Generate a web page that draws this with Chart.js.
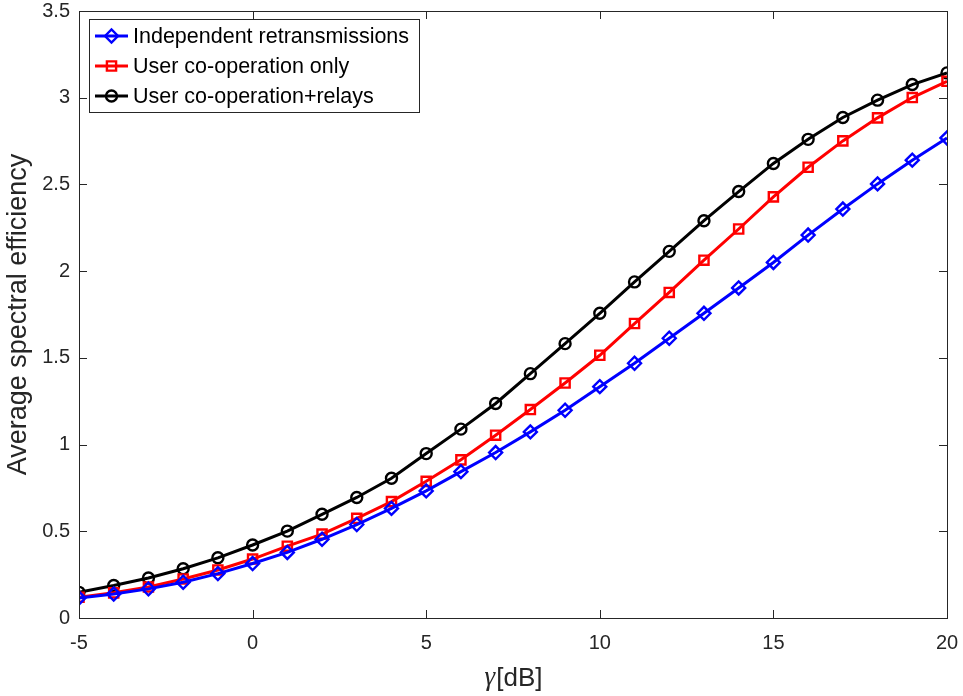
<!DOCTYPE html>
<html>
<head>
<meta charset="utf-8">
<title>Average spectral efficiency vs. SNR</title>
<script src="https://cdn.jsdelivr.net/npm/chart.js@4.4.1/dist/chart.umd.min.js"></script>
<style>
  html, body { margin: 0; padding: 0; background: #ffffff; }
  #wrap { width: 963px; height: 696px; }
</style>
</head>
<body>
<div id="wrap"><canvas id="chart" width="963" height="696"></canvas></div>
<script>
// SNR grid (dB)
const gammaDb = [-5, -4, -3, -2, -1, 0, 1, 2, 3, 4, 5, 6, 7, 8, 9, 10, 11, 12, 13, 14, 15, 16, 17, 18, 19, 20];

// Average spectral efficiency per scheme
const independentRetx = [0.115, 0.138, 0.168, 0.206, 0.256, 0.314, 0.378, 0.454, 0.539, 0.632, 0.733, 0.844, 0.954,
  1.073, 1.198, 1.334, 1.469, 1.613, 1.757, 1.903, 2.050, 2.208, 2.358, 2.503, 2.640, 2.768];
const coopOnly = [0.120, 0.145, 0.179, 0.225, 0.277, 0.340, 0.414, 0.484, 0.575, 0.671, 0.788, 0.912, 1.054,
  1.202, 1.355, 1.515, 1.698, 1.877, 2.063, 2.243, 2.428, 2.599, 2.751, 2.884, 3.001, 3.095];
const coopRelays = [0.148, 0.187, 0.231, 0.284, 0.347, 0.421, 0.501, 0.598, 0.695, 0.806, 0.948, 1.089, 1.237,
  1.409, 1.582, 1.757, 1.938, 2.114, 2.291, 2.459, 2.621, 2.760, 2.886, 2.986, 3.076, 3.143];

const seriesNames = ['Independent retransmissions', 'User co-operation only', 'User co-operation+relays'];

// Axis ticks
const xTicks = [-5, 0, 5, 10, 15, 20];
const yTicks = [0, 0.5, 1, 1.5, 2, 2.5, 3, 3.5];
const xTickLabels = ['-5', '0', '5', '10', '15', '20'];
const yTickLabels = ['0', '0.5', '1', '1.5', '2', '2.5', '3', '3.5'];

const AXIS_COLOR = '#262626';
const SANS = "'Liberation Sans', Arial, Helvetica, sans-serif";
const SERIF_ITALIC = "italic 27px 'Liberation Serif', 'DejaVu Serif', serif";

const toPoints = ys => gammaDb.map((x, i) => ({ x: x, y: ys[i] }));

// Box around the plot area with inward tick marks on all four sides
const boxAndTicks = {
  id: 'boxAndTicks',
  afterDatasetsDraw(chart) {
    const { ctx, chartArea: a, scales: { x, y } } = chart;
    const len = 8;
    ctx.save();
    ctx.strokeStyle = AXIS_COLOR;
    ctx.lineWidth = 1;
    ctx.beginPath();
    xTicks.forEach(v => {
      const px = Math.round(x.getPixelForValue(v)) + 0.5;
      ctx.moveTo(px, a.bottom); ctx.lineTo(px, a.bottom - len);
      ctx.moveTo(px, a.top); ctx.lineTo(px, a.top + len);
    });
    yTicks.forEach(v => {
      const py = Math.round(y.getPixelForValue(v)) + 0.5;
      ctx.moveTo(a.left, py); ctx.lineTo(a.left + len, py);
      ctx.moveTo(a.right, py); ctx.lineTo(a.right - len, py);
    });
    ctx.stroke();
    ctx.strokeRect(Math.round(a.left) + 0.5, Math.round(a.top) + 0.5,
      Math.round(a.right - a.left), Math.round(a.bottom - a.top));
    ctx.restore();
  }
};

// Axis titles and the boxed legend in the upper-left corner
const titlesAndLegend = {
  id: 'titlesAndLegend',
  afterDraw(chart) {
    const { ctx, chartArea: a } = chart;
    ctx.save();
    ctx.fillStyle = AXIS_COLOR;

    // x-axis title: italic gamma followed by the unit
    const cx = (a.left + a.right) / 2;
    const ty = 679;
    ctx.textBaseline = 'middle';
    ctx.font = SERIF_ITALIC;
    const gW = ctx.measureText('γ').width;
    ctx.font = '26px ' + SANS;
    const uW = ctx.measureText('[dB]').width;
    const sx = cx - (gW + uW) / 2;
    ctx.textAlign = 'left';
    ctx.font = SERIF_ITALIC;
    ctx.fillText('γ', sx, ty - 1);
    ctx.font = '26px ' + SANS;
    ctx.fillText('[dB]', sx + gW + 1, ty);

    // y-axis title
    ctx.translate(19, (a.top + a.bottom) / 2);
    ctx.rotate(-Math.PI / 2);
    ctx.textAlign = 'center';
    ctx.font = '27px ' + SANS;
    ctx.fillText('Average spectral efficiency', 0, 0);
    ctx.restore();

    // legend
    const lx = 89, ly = 19, lw = 330, lh = 93;
    ctx.save();
    ctx.fillStyle = '#ffffff';
    ctx.fillRect(lx, ly, lw, lh);
    ctx.strokeStyle = AXIS_COLOR;
    ctx.lineWidth = 1;
    ctx.strokeRect(lx + 0.5, ly + 0.5, lw, lh);
    const rowY = [36, 66, 96];
    chart.data.datasets.forEach((ds, i) => {
      const yy = rowY[i];
      ctx.strokeStyle = ds.borderColor;
      ctx.lineWidth = ds.borderWidth;
      ctx.beginPath();
      ctx.moveTo(95, yy); ctx.lineTo(128, yy);
      ctx.stroke();
      ctx.fillStyle = 'rgba(0,0,0,0)';
      ctx.lineWidth = ds.pointBorderWidth;
      Chart.helpers.drawPoint(ctx, {
        pointStyle: ds.pointStyle,
        radius: ds.pointRadius,
        rotation: 0,
        borderWidth: ds.pointBorderWidth
      }, 111.5, yy);
      ctx.fillStyle = '#000000';
      ctx.font = '21.5px ' + SANS;
      ctx.textAlign = 'left';
      ctx.textBaseline = 'middle';
      ctx.fillText(seriesNames[i], 133, yy + 1);
    });
    ctx.restore();
  }
};

function series(label, values, color, style, radius) {
  return {
    label: label,
    data: toPoints(values),
    borderColor: color,
    backgroundColor: color,
    borderWidth: 3,
    pointStyle: style,
    pointRadius: radius,
    pointBorderWidth: 2.4,
    pointBorderColor: color,
    pointBackgroundColor: 'rgba(0,0,0,0)',
    tension: 0,
    fill: false
  };
}

new Chart(document.getElementById('chart'), {
  type: 'line',
  data: {
    datasets: [
      series(seriesNames[0], independentRetx, '#0000ff', 'rectRot', 6.5),
      series(seriesNames[1], coopOnly, '#ff0000', 'rect', 6.5),
      series(seriesNames[2], coopRelays, '#000000', 'circle', 5.5)
    ]
  },
  options: {
    responsive: false,
    animation: false,
    devicePixelRatio: 1,
    layout: { padding: { top: 11, right: 16, left: 0, bottom: 0 } },
    plugins: { legend: { display: false }, tooltip: { enabled: false } },
    scales: {
      x: {
        type: 'linear',
        min: -5,
        max: 20,
        afterFit(s) { s.height = 78; s.paddingLeft = 0; s.paddingRight = 0; },
        afterBuildTicks(s) { s.ticks = xTicks.map(v => ({ value: v })); },
        grid: { display: false, drawTicks: false },
        border: { display: false },
        ticks: {
          color: AXIS_COLOR,
          font: { family: SANS, size: 20 },
          padding: 13,
          maxRotation: 0,
          autoSkip: false,
          callback: v => xTickLabels[xTicks.indexOf(v)]
        }
      },
      y: {
        type: 'linear',
        min: 0,
        max: 3.5,
        afterFit(s) { s.width = 79; s.paddingTop = 0; s.paddingBottom = 0; },
        afterBuildTicks(s) { s.ticks = yTicks.map(v => ({ value: v })); },
        grid: { display: false, drawTicks: false },
        border: { display: false },
        ticks: {
          color: AXIS_COLOR,
          font: { family: SANS, size: 20 },
          padding: 9,
          autoSkip: false,
          callback: v => yTickLabels[yTicks.indexOf(v)]
        }
      }
    }
  },
  plugins: [boxAndTicks, titlesAndLegend]
});
</script>
</body>
</html>
